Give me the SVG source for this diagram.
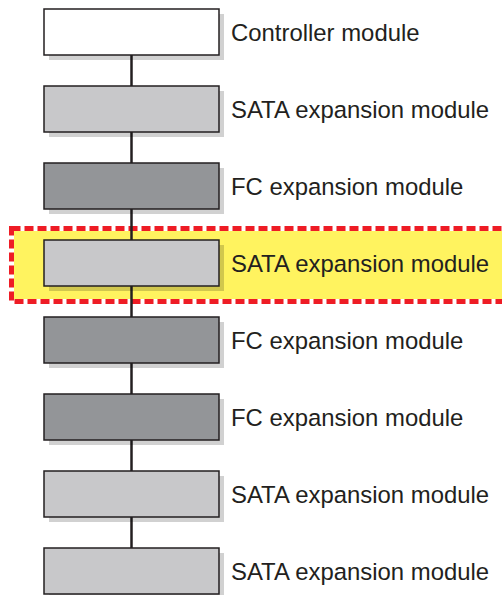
<svg xmlns="http://www.w3.org/2000/svg" width="502" height="595" viewBox="0 0 502 595">
<style>
.box{stroke:#231f20;stroke-width:1.5}
.w{fill:#ffffff}
.l{fill:#c8c8ca}
.d{fill:#939598}
.sh{fill:#000000;fill-opacity:0.18}
.t{font-family:"Liberation Sans",Arial,sans-serif;font-size:23.9px;fill:#231f20}
.c{stroke:#231f20;stroke-width:2.5;fill:none}
</style>
<g id="highlight">
<rect x="11.5" y="228.5" width="496" height="73" fill="#fff35f" stroke="#ffffff" stroke-width="5"/>
<rect x="11.5" y="228.5" width="496" height="73" fill="none" stroke="#ee1c25" stroke-width="5" stroke-dasharray="9 4"/>
</g>
<g id="connectors">
<path class="c" d="M131.5 55V548"/>
</g>
<g id="n1"><rect class="sh" x="49" y="14" width="175" height="46"/><rect class="box w" x="44" y="9" width="175" height="46"/><text class="t" x="231" y="40.5">Controller module</text></g>
<g id="n2"><rect class="sh" x="49" y="91" width="175" height="46"/><rect class="box l" x="44" y="86" width="175" height="46"/><text class="t" x="231" y="117.5">SATA expansion module</text></g>
<g id="n3"><rect class="sh" x="49" y="168" width="175" height="46"/><rect class="box d" x="44" y="163" width="175" height="46"/><text class="t" x="231" y="194.5">FC expansion module</text></g>
<g id="n4"><rect class="sh" x="49" y="245" width="175" height="46"/><rect class="box l" x="44" y="240" width="175" height="46"/><text class="t" x="231" y="271.5">SATA expansion module</text></g>
<g id="n5"><rect class="sh" x="49" y="322" width="175" height="46"/><rect class="box d" x="44" y="317" width="175" height="46"/><text class="t" x="231" y="348.5">FC expansion module</text></g>
<g id="n6"><rect class="sh" x="49" y="399" width="175" height="46"/><rect class="box d" x="44" y="394" width="175" height="46"/><text class="t" x="231" y="425.5">FC expansion module</text></g>
<g id="n7"><rect class="sh" x="49" y="476" width="175" height="46"/><rect class="box l" x="44" y="471" width="175" height="46"/><text class="t" x="231" y="502.5">SATA expansion module</text></g>
<g id="n8"><rect class="sh" x="49" y="553" width="175" height="46"/><rect class="box l" x="44" y="548" width="175" height="46"/><text class="t" x="231" y="579.5">SATA expansion module</text></g>
</svg>
